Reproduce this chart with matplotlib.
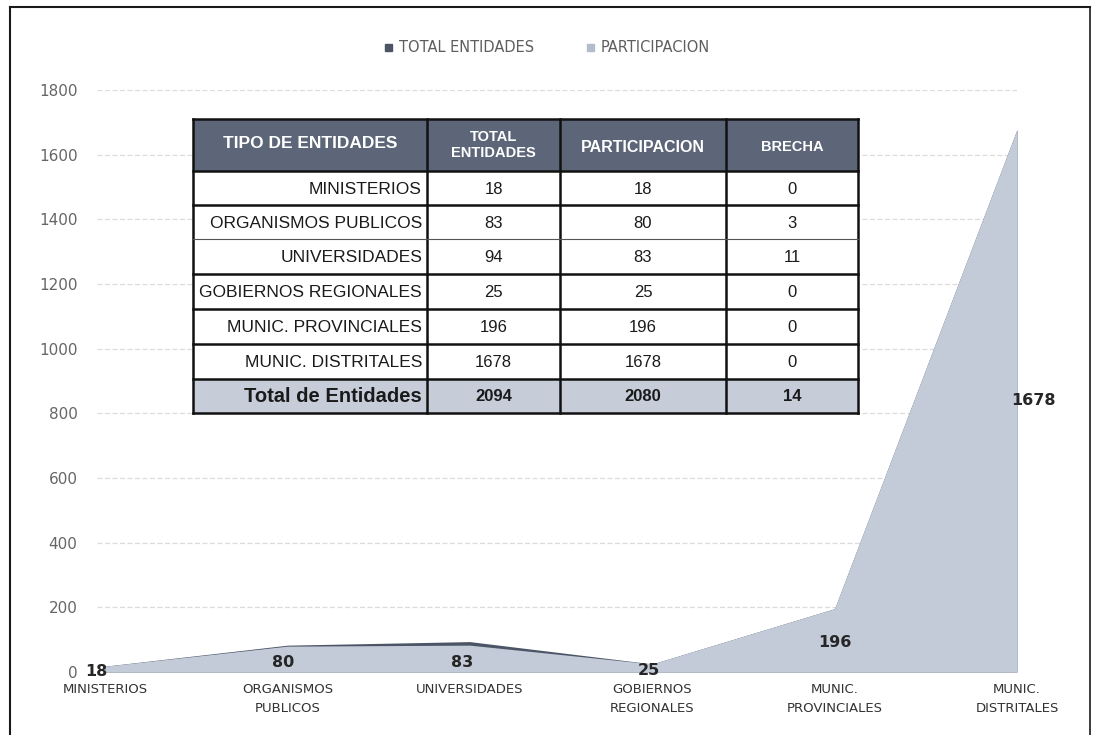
import matplotlib
matplotlib.use("Agg")
import matplotlib.pyplot as plt
from matplotlib.patches import Rectangle
from matplotlib.lines import Line2D
import numpy as np

# ---- data ----
categories = ["MINISTERIOS", "ORGANISMOS\nPUBLICOS", "UNIVERSIDADES",
              "GOBIERNOS\nREGIONALES", "MUNIC.\nPROVINCIALES", "MUNIC.\nDISTRITALES"]
table_names = ["MINISTERIOS", "ORGANISMOS PUBLICOS", "UNIVERSIDADES",
               "GOBIERNOS REGIONALES", "MUNIC. PROVINCIALES", "MUNIC. DISTRITALES"]
total_entidades = [18, 83, 94, 25, 196, 1678]
participacion = [18, 80, 83, 25, 196, 1678]
brecha = [t - p for t, p in zip(total_entidades, participacion)]
y_ticks = list(range(0, 1801, 200))

# label anchor positions (category index offset, value level)
label_dx = [-0.05, -0.024, -0.04, -0.02, 0.0, 0.09]
label_y = [3, 28, 28, 6, 90, 841]

DARK = "#4b5566"
LIGHT = "#c3cad8"
W, H = 1096, 735

fig = plt.figure(figsize=(W / 100, H / 100), dpi=100)
fig.patch.set_facecolor("white")

# ---- area chart ----
px_left, px_right, px_top, px_bottom = 97, 1017, 90, 672
ax = fig.add_axes([px_left / W, (H - px_bottom) / H,
                   (px_right - px_left) / W, (px_bottom - px_top) / H])
x = np.arange(len(categories))
ax.fill_between(x, total_entidades, 0, color=DARK, lw=0, zorder=2)
ax.fill_between(x, participacion, 0, color=LIGHT, lw=0, zorder=3)

ax.set_xlim(-0.044, len(categories) - 1)
ax.set_ylim(0, 1800)
ax.set_yticks(y_ticks)
ax.set_yticklabels([str(v) for v in y_ticks], fontsize=11, color="#666666",
                   family="DejaVu Sans")
ax.yaxis.grid(True, color="#dcdcdc", lw=0.9, ls=(0, (4, 2)), zorder=0)
ax.set_axisbelow(True)
ax.tick_params(axis="y", length=0, pad=14)
ax.set_xticks(x)
ax.set_xticklabels(categories, fontsize=9.5, color="#333333", linespacing=1.6,
                   family="DejaVu Sans")
ax.tick_params(axis="x", length=0, pad=8)
for s in ax.spines.values():
    s.set_visible(False)

for i, v in enumerate(participacion):
    ax.text(i + label_dx[i], label_y[i], str(v), ha="center", va="center",
            fontsize=11.5, fontweight="bold", color="#262626", zorder=5,
            family="DejaVu Sans")

# ---- overlay in pixel coordinates: legend, table, frame ----
ov = fig.add_axes([0, 0, 1, 1], zorder=10)
ov.set_xlim(0, W)
ov.set_ylim(H, 0)
ov.axis("off")
ov.patch.set_alpha(0)

# legend
ov.add_patch(Rectangle((385, 44), 7, 7, color=DARK))
ov.text(399, 47.5, "TOTAL ENTIDADES", fontsize=10.5, color="#5e5e5e",
        va="center", ha="left")
ov.add_patch(Rectangle((587, 44), 7, 7, color="#b3bccb"))
ov.text(601, 47.5, "PARTICIPACION", fontsize=10.5, color="#5e5e5e",
        va="center", ha="left")

# table
col_x = [193, 427, 560, 726, 858]
row_y = [119, 171, 205, 239, 274, 309, 344, 379, 413]
HEAD = "#5c6678"
FOOT = "#c6cdd9"
ov.add_patch(Rectangle((col_x[0], row_y[0]), col_x[-1] - col_x[0],
                       row_y[-1] - row_y[0], facecolor="white", edgecolor="none"))
ov.add_patch(Rectangle((col_x[0], row_y[0]), col_x[-1] - col_x[0],
                       row_y[1] - row_y[0], facecolor=HEAD, edgecolor="none"))
ov.add_patch(Rectangle((col_x[0], row_y[-2]), col_x[-1] - col_x[0],
                       row_y[-1] - row_y[-2], facecolor=FOOT, edgecolor="none"))

for j, cx in enumerate(col_x):
    ov.add_line(Line2D([cx, cx], [row_y[0], row_y[-1]], color="#111111", lw=1.8))
for k, ry in enumerate(row_y):
    lw = 0.8 if k == 3 else 1.8
    col = "#555555" if k == 3 else "#111111"
    ov.add_line(Line2D([col_x[0], col_x[-1]], [ry, ry], color=col, lw=lw))

hy = (row_y[0] + row_y[1]) / 2
mid = [(col_x[j] + col_x[j + 1]) / 2 for j in range(4)]
ov.text(mid[0], hy - 2, "TIPO DE ENTIDADES", color="white", fontsize=12.5,
        fontweight="bold", ha="center", va="center", family="Liberation Sans")
ov.text(mid[1], hy, "TOTAL\nENTIDADES", color="white", fontsize=10.5,
        fontweight="bold", ha="center", va="center", linespacing=1.25,
        family="Liberation Sans")
ov.text(mid[2], hy + 2, "PARTICIPACION", color="white", fontsize=11.5,
        fontweight="bold", ha="center", va="center", family="Liberation Sans")
ov.text(mid[3], hy + 2, "BRECHA", color="white", fontsize=10.5,
        fontweight="bold", ha="center", va="center", family="Liberation Sans")

for r in range(len(table_names)):
    cy = (row_y[r + 1] + row_y[r + 2]) / 2 + 1
    ov.text(col_x[1] - 5, cy, table_names[r], fontsize=12.5, color="#1a1a1a",
            ha="right", va="center", family="Liberation Sans")
    for j, val in enumerate([total_entidades[r], participacion[r], brecha[r]]):
        ov.text(mid[j + 1], cy, str(val), fontsize=12, color="#1a1a1a",
                ha="center", va="center", family="Liberation Sans")

fy = (row_y[-2] + row_y[-1]) / 2
ov.text(col_x[1] - 5, fy, "Total de Entidades", fontsize=14.5, fontweight="bold",
        color="#1a1a1a", ha="right", va="center", family="Liberation Sans")
for j, val in enumerate([sum(total_entidades), sum(participacion), sum(brecha)]):
    ov.text(mid[j + 1], fy, str(val), fontsize=12, fontweight="bold",
            color="#1a1a1a", ha="center", va="center", family="Liberation Sans")

# outer frame
ov.add_line(Line2D([10, 10], [7, H], color="#1a1a1a", lw=1.5))
ov.add_line(Line2D([10, 1090], [7, 7], color="#1a1a1a", lw=1.5))
ov.add_line(Line2D([1090, 1090], [7, H], color="#1a1a1a", lw=1.2))

fig.savefig("out.png", dpi=100)
